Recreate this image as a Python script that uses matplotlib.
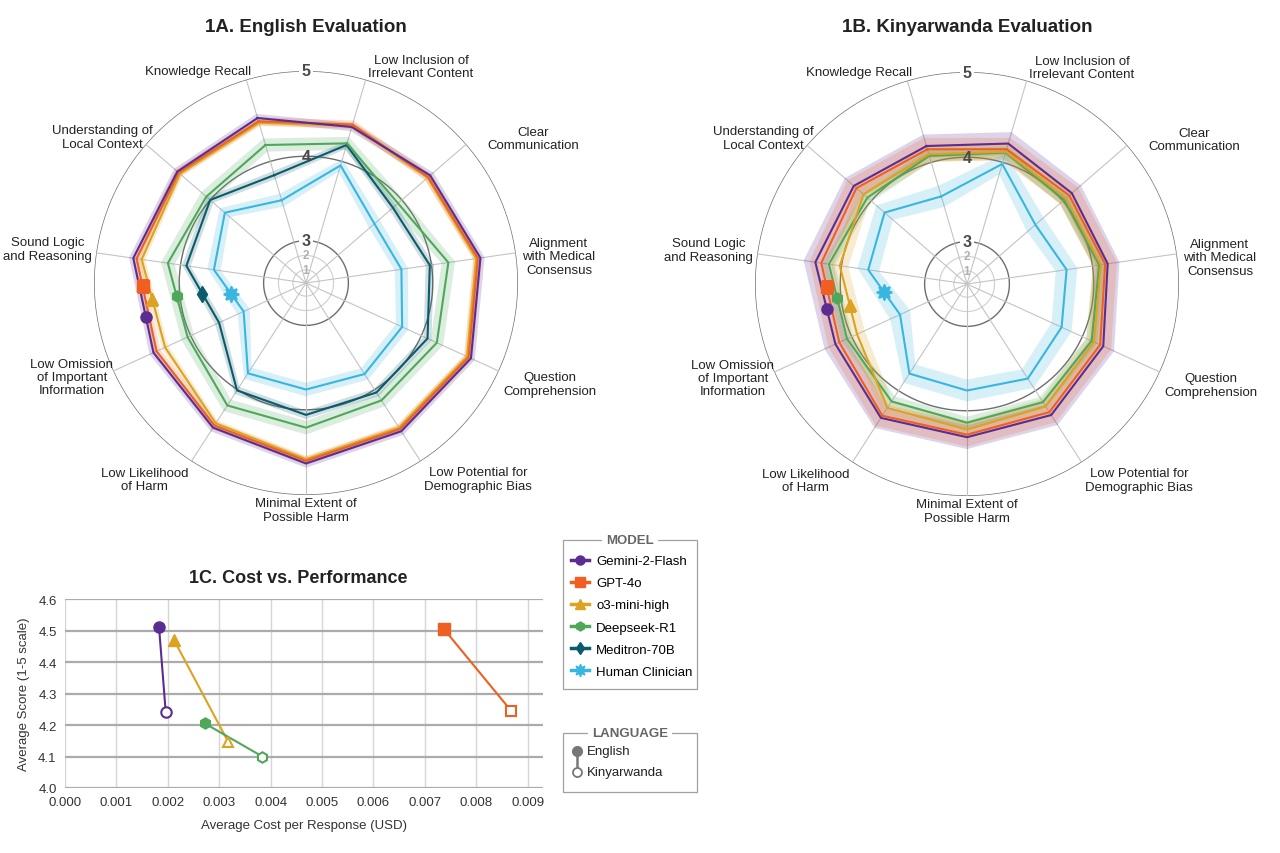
#!/usr/bin/env python3

import matplotlib
matplotlib.use("Agg")
import matplotlib.pyplot as plt
import numpy as np
from matplotlib.lines import Line2D
from matplotlib.patches import Rectangle

plt.rcParams['font.family'] = ['Liberation Sans', 'DejaVu Sans']

categories = ["Knowledge Recall", "Low Inclusion of\nIrrelevant Content", "Clear\nCommunication",
              "Alignment\nwith Medical\nConsensus", "Question\nComprehension",
              "Low Potential for\nDemographic Bias", "Minimal Extent of\nPossible Harm",
              "Low Likelihood\nof Harm", "Low Omission\nof Important\nInformation",
              "Sound Logic\nand Reasoning", "Understanding of\nLocal Context"]

models = ["Gemini-2-Flash", "GPT-4o", "o3-mini-high", "Deepseek-R1", "Meditron-70B", "Human Clinician"]
colors = ["#5b2c91", "#ef5f22", "#dba321", "#4fa85a", "#0c5b6c", "#38b6e0"]
markers = ["o", "s", "^", "h", "d", (8, 1, 0)]

# 1A. English scores per category (order as categories)
eng_gemini = [4.53, 4.42, 4.44, 4.58, 4.64, 4.58, 4.63, 4.53, 4.48, 4.56, 4.51]
eng_gpt4o = [4.49, 4.45, 4.41, 4.55, 4.61, 4.55, 4.60, 4.50, 4.44, 4.52, 4.49]
eng_o3 = [4.47, 4.44, 4.40, 4.53, 4.59, 4.53, 4.58, 4.47, 4.33, 4.46, 4.47]
eng_deepseek = [4.20, 4.22, 3.94, 4.20, 4.20, 4.15, 4.21, 4.22, 4.04, 4.15, 4.06]
eng_meditron = [3.83, 4.20, 3.86, 3.98, 4.08, 4.04, 4.06, 4.01, 3.63, 3.93, 4.00]
eng_human = [3.52, 3.95, 3.57, 3.64, 3.75, 3.78, 3.76, 3.77, 3.31, 3.60, 3.77]
eng_band = [0.05, 0.05, 0.04, 0.08, 0.05, 0.08]

# 1B. Kinyarwanda scores (no Meditron)
kin_gemini = [4.20, 4.23, 4.14, 4.18, 4.27, 4.34, 4.31, 4.38, 4.21, 4.31, 4.27]
kin_gpt4o = [4.16, 4.16, 4.10, 4.15, 4.23, 4.30, 4.28, 4.35, 4.16, 4.24, 4.23]
kin_o3 = [4.10, 4.13, 4.05, 4.10, 4.15, 4.22, 4.22, 4.24, 3.93, 4.02, 4.12]
kin_deepseek = [4.08, 4.12, 4.02, 4.08, 4.12, 4.16, 4.14, 4.15, 4.06, 4.15, 4.06]
kin_human = [3.58, 3.98, 3.57, 3.69, 3.73, 3.83, 3.76, 3.76, 3.37, 3.68, 3.79]
kin_band = [0.14, 0.14, 0.1, 0.07, None, 0.13]

# 1C. cost vs performance
c_models = ["Gemini-2-Flash", "GPT-4o", "o3-mini-high", "Deepseek-R1"]
cost_eng = [0.00183, 0.00737, 0.00212, 0.00272]
cost_kin = [0.00196, 0.00868, 0.00318, 0.00384]
score_eng = [4.51, 4.505, 4.47, 4.205]
score_kin = [4.24, 4.245, 4.145, 4.10]

# uneven radial scale: 0-3 squeezed in the middle
ring_vals = [0, 1, 2, 3, 4, 5]
ring_rad = [0, 0.062, 0.13, 0.2, 0.598, 1.0]


def rad(v):
    return np.interp(v, ring_vals, ring_rad)


n = len(categories)
theta = np.arange(n) * 2 * np.pi / n
theta_c = np.r_[theta, theta[0]]

# label placements (display angle in deg, radius in axes-radius units)
lab_ang = [117, 62, 32.4, 6, -22.5, -48.7, -90, 230.6, 201.9, 172.5, 144.3]
lab_r = [1.12, 1.155, 1.27, 1.20, 1.245, 1.23, 1.07, 1.20, 1.19, 1.23, 1.18]

fig = plt.figure()
fig.set_size_inches(12.8, 8.54)


def radar(rect, series, bands, marker_t):
    ax = fig.add_axes(rect, projection="polar")
    ax.set_theta_direction(-1)
    ax.set_theta_offset(np.pi / 2 + np.pi / n)
    ax.set_ylim(0, 1)
    ax.set_xticks([])
    ax.set_yticks([])
    ax.grid(False)
    ax.spines["polar"].set_visible(False)

    circ = np.linspace(0, 2 * np.pi, 400)
    for v in ring_vals[1:]:
        if v < 3:
            ax.plot(circ, np.full_like(circ, rad(v)), color="#cfcfcf", lw=0.8, zorder=1)
        else:
            ax.plot(circ, np.full_like(circ, rad(v)), color="#6e6e6e", lw=1.0, zorder=1)
    for t in theta:
        ax.plot([t, t], [0, 1], color="#c4c4c4", lw=0.8, zorder=1)

    for v in ring_vals[1:]:
        big = v >= 3
        gap = dict(boxstyle="square,pad=0.15", fc="white", ec="none") if v in (3, 5) else None
        ax.text(np.pi / n, rad(v), str(v),
                ha="center", va="center",
                fontsize=11.5 if big else 8.5, fontweight="bold",
                color="#4a4a4a" if big else "#b0b0b0", zorder=9 if big else 2, bbox=gap)

    for i, vals in enumerate(series):
        if vals is None:
            continue
        v = np.r_[vals, vals[0]]
        d = bands[i]
        outer = rad(v + d)
        inner = rad(v - d)
        ax.fill(np.r_[theta_c, theta_c[::-1]], np.r_[outer, inner[::-1]],
                color=colors[i], alpha=0.2, lw=0, zorder=3)
    for i, vals in reversed(list(enumerate(series))):
        if vals is None:
            continue
        v = np.r_[vals, vals[0]]
        ax.plot(theta_c, rad(v), color=colors[i], lw=1.5, zorder=5 + (5 - i) * 0.1)

    # model markers on the edge between Sound Logic and Low Omission
    for i, vals in enumerate(series):
        if vals is None:
            continue
        r9, r8 = rad(vals[9]), rad(vals[8])
        x9, y9 = r9 * np.cos(theta[9]), r9 * np.sin(theta[9])
        x8, y8 = r8 * np.cos(theta[8]), r8 * np.sin(theta[8])
        tt = marker_t[i]
        xm, ym = x9 + (x8 - x9) * tt, y9 + (y8 - y9) * tt
        ax.plot([np.arctan2(ym, xm)], [np.hypot(xm, ym)], marker=markers[i],
                color=colors[i], ms=11 if i == 5 else 8, mew=1.5 if i == 5 else 1,
                zorder=8, ls="none")

    for k, lab in enumerate(categories):
        a = np.deg2rad(lab_ang[k])
        ax.text(0.5 + 0.5 * lab_r[k] * np.cos(a), 0.5 + 0.5 * lab_r[k] * np.sin(a), lab,
                transform=ax.transAxes, ha="center", va="center", fontsize=9.5,
                color="#222222", linespacing=1.15)
    return ax


radar([94 / 1280, 358 / 854, 424 / 1280, 424 / 854],
      [eng_gemini, eng_gpt4o, eng_o3, eng_deepseek, eng_meditron, eng_human], eng_band,
      [0.62, 0.3, 0.45, 0.45, 0.49, 0.57])
radar([755 / 1280, 357 / 854, 424 / 1280, 424 / 854],
      [kin_gemini, kin_gpt4o, kin_o3, kin_deepseek, None, kin_human], kin_band,
      [0.57, 0.3, 0.58, 0.45, 0.5, 0.5])

fig.text(306 / 1280, 1 - 27 / 854, "1A. English Evaluation", ha="center", va="center",
         fontsize=13.5, fontweight="bold", color="#222222")
fig.text(967 / 1280, 1 - 27 / 854, "1B. Kinyarwanda Evaluation", ha="center", va="center",
         fontsize=13.5, fontweight="bold", color="#222222")

# 1C
ax = fig.add_axes([65 / 1280, 65 / 854, 478 / 1280, 189 / 854])
for i in range(len(c_models)):
    ax.plot([cost_eng[i], cost_kin[i]], [score_eng[i], score_kin[i]], color=colors[i], lw=1.5, zorder=3)
    ax.plot(cost_eng[i], score_eng[i], marker=markers[i], color=colors[i], ms=8, ls="none", zorder=4)
    ax.plot(cost_kin[i], score_kin[i], marker=markers[i], color=colors[i], mfc="white",
            mew=1.5, ms=7.5, ls="none", zorder=4)
ax.set_xlim(0, 0.0093)
ax.set_ylim(4.0, 4.6)
ax.set_xticks(np.arange(0, 0.0091, 0.001))
ax.set_xticklabels(["%.3f" % x for x in np.arange(0, 0.0091, 0.001)])
ax.set_yticks(np.arange(4.0, 4.61, 0.1))
ax.set_yticklabels(["%.1f" % y for y in np.arange(4.0, 4.61, 0.1)])
ax.grid(True, axis="y", color="#ababab", lw=1.6)
ax.grid(True, axis="x", color="#d6d6d6", lw=1.0)
ax.set_axisbelow(True)
for s in ax.spines.values():
    s.set_visible(False)
ax.tick_params(length=0, labelsize=9.5, labelcolor="#333333", pad=6)
ax.set_xlabel("Average Cost per Response (USD)", fontsize=9.5, color="#333333", labelpad=8)
ax.set_ylabel("Average Score (1-5 scale)", fontsize=9.5, color="#333333", labelpad=6)
fig.text(298 / 1280, 1 - 579 / 854, "1C. Cost vs. Performance", ha="center", va="center",
         fontsize=13, fontweight="bold", color="#222222")

# legends
handles = [Line2D([], [], color=colors[i], marker=markers[i], lw=2.5,
                  ms=9 if i == 5 else 6.5) for i in range(len(models))]
fig.legend(handles, models, loc="upper left", bbox_to_anchor=(571 / 1280, 1 - 556 / 854),
           frameon=False, fontsize=9.5, handlelength=1.4, handletextpad=0.5,
           labelspacing=0.75, borderpad=0, borderaxespad=0)
fig.add_artist(Rectangle((563 / 1280, 1 - 690 / 854), 134 / 1280, 149 / 854,
                         transform=fig.transFigure, fill=False, ec="#a0a0a0", lw=0.9))
fig.text(630 / 1280, 1 - 541 / 854, "MODEL", ha="center", va="center", fontsize=9.5,
         fontweight="bold", color="#666666",
         bbox=dict(boxstyle="square,pad=0.3", fc="white", ec="none"))

fig.add_artist(Rectangle((563 / 1280, 1 - 793 / 854), 134 / 1280, 59 / 854,
                         transform=fig.transFigure, fill=False, ec="#a0a0a0", lw=0.9))
fig.text(630 / 1280, 1 - 734 / 854, "LANGUAGE", ha="center", va="center", fontsize=9.5,
         fontweight="bold", color="#666666",
         bbox=dict(boxstyle="square,pad=0.3", fc="white", ec="none"))
fig.add_artist(Line2D([577 / 1280, 577 / 1280], [1 - 752 / 854, 1 - 773 / 854],
                      transform=fig.transFigure, color="#777777", lw=1.8))
fig.add_artist(Line2D([577 / 1280], [1 - 752 / 854], transform=fig.transFigure,
                      marker="o", ms=7, color="#777777", ls="none"))
fig.add_artist(Line2D([577 / 1280], [1 - 773 / 854], transform=fig.transFigure,
                      marker="o", ms=6.5, color="#777777", mfc="white", mew=1.3, ls="none"))
fig.text(587 / 1280, 1 - 752 / 854, "English", ha="left", va="center", fontsize=9.5, color="#222222")
fig.text(587 / 1280, 1 - 773 / 854, "Kinyarwanda", ha="left", va="center", fontsize=9.5, color="#222222")

fig.savefig("out.png", dpi=100)
